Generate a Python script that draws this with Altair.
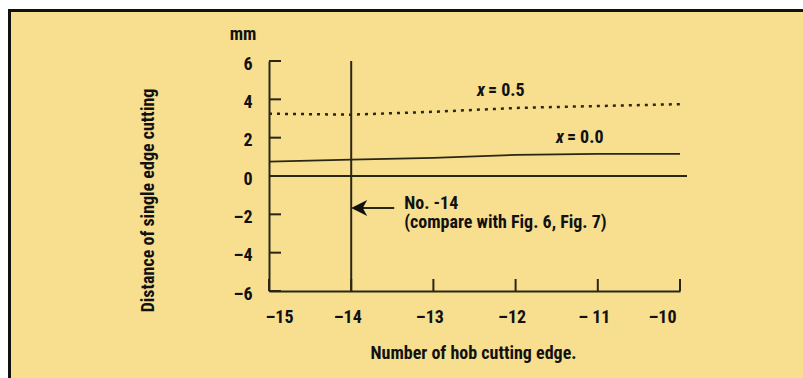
import altair as alt
import pandas as pd

# Hob cutting edge number (x) and single-edge cutting distance in mm (y)
edge_no = [-15, -14, -13, -12, -11, -10]
dist_x05 = [3.25, 3.2, 3.35, 3.55, 3.65, 3.75]   # profile shift x = 0.5
dist_x00 = [0.75, 0.85, 0.95, 1.1, 1.15, 1.15]   # profile shift x = 0.0

y_ticks = [-6, -4, -2, 0, 2, 4, 6]
x_ticks = [-15, -14, -13, -12, -11, -10]
x_tick_text = ["–15", "–14", "–13", "–12", "– 11", "–10"]

marked_edge = -14
arrow_y = -1.67
note_lines = ["No. -14", "(compare with Fig. 6, Fig. 7)"]

# plot area in pixels
W, H = 411, 230
PAD = {"left": 269, "top": 61, "right": 123, "bottom": 87}
X_DOM = [-15, -10]
Y_DOM = [-6, 6]
px_x = (X_DOM[1] - X_DOM[0]) / W
px_y = (Y_DOM[1] - Y_DOM[0]) / H

FONT = "Roboto Condensed, DejaVu Sans Condensed, Liberation Sans, sans-serif"
FS = 18
INK = "#2a2614"
BG = "#F7DF8F"

xs = alt.Scale(domain=X_DOM, nice=False, zero=False)
ys = alt.Scale(domain=Y_DOM, nice=False, zero=False)

lines = pd.DataFrame({
    "edge": edge_no * 2,
    "dist": dist_x05 + dist_x00,
    "series": ["x = 0.5"] * 6 + ["x = 0.0"] * 6,
})

label_expr = "datum.value < 0 ? '–' + abs(datum.value) : '' + datum.value"
x_label_expr = "{" + ",".join(f"'{v}':'{t}'" for v, t in zip(x_ticks, x_tick_text)) + "}[datum.value]"

AX_X = alt.Axis(
    values=x_ticks, ticks=False, tickSize=0, grid=False,
    domainColor=INK, domainWidth=2, labelOverlap=False,
    labelExpr=x_label_expr, labelFont=FONT, labelFontSize=FS,
    labelFontWeight="bold", labelColor="#111", labelPadding=26,
    labelBaseline="middle", labelOffset=-4,
    title="Number of hob cutting edge.", titleFont=FONT,
    titleFontSize=FS, titleFontWeight="bold", titleColor="#111",
    titleX=204, titleY=62, titleBaseline="middle", titleAlign="center",
)
AX_Y = alt.Axis(
    values=y_ticks, ticks=False, tickSize=0, grid=False,
    domainColor=INK, domainWidth=2, labelOverlap=False,
    labelExpr=label_expr, labelFont=FONT, labelFontSize=FS,
    labelFontWeight="bold", labelColor="#111", labelPadding=17,
    labelBaseline="middle", labelOffset=3,
    title="Distance of single edge cutting", titleFont=FONT,
    titleFontSize=FS, titleFontWeight="bold", titleColor="#111",
    titleX=-121, titleY=139, titleAngle=270,
    titleBaseline="middle", titleAlign="center",
)

X_ = lambda f: alt.X(f, scale=xs, axis=AX_X)
Y_ = lambda f: alt.Y(f, scale=ys, axis=AX_Y)

base = alt.Chart(lines).encode(x=X_("edge:Q"), y=Y_("dist:Q"))

dotted = base.transform_filter("datum.series == 'x = 0.5'").mark_line(
    color=INK, strokeWidth=2.5, strokeDash=[3, 5]
)
solid = base.transform_filter("datum.series == 'x = 0.0'").mark_line(
    color=INK, strokeWidth=1.8
)

# zero line and the vertical marker at edge -14
ref = pd.DataFrame({
    "x": [X_DOM[0], marked_edge],
    "x2": [X_DOM[1] + 7 * px_x, marked_edge],
    "y": [0, Y_DOM[0]],
    "y2": [0, Y_DOM[1]],
})
ref_rules = alt.Chart(ref).mark_rule(color=INK, strokeWidth=2).encode(
    x=X_("x:Q"), x2="x2:Q", y=Y_("y:Q"), y2="y2:Q",
)

# inward tick marks on both axes
tick_len = 12
yt = pd.DataFrame({"y": y_ticks, "x": X_DOM[0], "x2": X_DOM[0] + tick_len * px_x})
xt = pd.DataFrame({"x": x_ticks, "y": Y_DOM[0], "y2": Y_DOM[0] + tick_len * px_y})
y_tick_marks = alt.Chart(yt).mark_rule(color=INK, strokeWidth=2).encode(
    x=X_("x:Q"), x2="x2:Q", y=Y_("y:Q")
)
x_tick_marks = alt.Chart(xt).mark_rule(color=INK, strokeWidth=2).encode(
    x=X_("x:Q"), y=Y_("y:Q"), y2="y2:Q"
)

# arrow pointing at edge -14
shaft = pd.DataFrame({"x": [marked_edge + 8 * px_x], "x2": [marked_edge + 43 * px_x], "y": [arrow_y]})
arrow_shaft = alt.Chart(shaft).mark_rule(color=INK, strokeWidth=2).encode(
    x=X_("x:Q"), x2="x2:Q", y=Y_("y:Q")
)
head = pd.DataFrame({"x": [marked_edge + 8 * px_x], "y": [arrow_y]})
arrow_head = alt.Chart(head).mark_point(
    shape="M-1,0 L1,-1 L0.45,0 L1,1 Z", size=256, filled=True, opacity=1, color="#111"
).encode(x=X_("x:Q"), y=Y_("y:Q"))

note = pd.DataFrame({
    "x": [marked_edge + 53 * px_x] * 2,
    "y": [arrow_y + 4 * px_y, arrow_y - 15 * px_y],
    "t": note_lines,
})
note_text = alt.Chart(note).mark_text(
    align="left", baseline="middle", font=FONT, fontSize=FS, fontWeight="bold", color="#111"
).encode(x=X_("x:Q"), y=Y_("y:Q"), text="t:N")

# series labels: italic variable name, then the value
lab = pd.DataFrame({
    "x": [-12.36, -11.40],
    "y": [4.43, 1.98],
    "v": ["x", "x"],
    "t": ["= 0.5", "= 0.0"],
})
lab_var = alt.Chart(lab).mark_text(
    align="right", baseline="middle", font=FONT, fontSize=FS, fontWeight="bold",
    fontStyle="italic", color="#111", dx=-1
).encode(x=X_("x:Q"), y=Y_("y:Q"), text="v:N")
lab_val = alt.Chart(lab).mark_text(
    align="left", baseline="middle", font=FONT, fontSize=FS, fontWeight="bold",
    color="#111", dx=2
).encode(x=X_("x:Q"), y=Y_("y:Q"), text="t:N")

one = alt.Data(values=[{}])
unit = alt.Chart(one).mark_text(
    align="center", baseline="middle", font=FONT, fontSize=FS, fontWeight="bold", color="#111"
).encode(x=alt.value(-26), y=alt.value(-26), text=alt.value("mm"))

# page frame: white margin with a black border on the left and top
white_left = alt.Chart(one).mark_rect(color="white").encode(
    x=alt.value(-PAD["left"]), x2=alt.value(-PAD["left"] + 8),
    y=alt.value(-PAD["top"]), y2=alt.value(H + PAD["bottom"]))
white_top = alt.Chart(one).mark_rect(color="white").encode(
    x=alt.value(-PAD["left"]), x2=alt.value(W + PAD["right"]),
    y=alt.value(-PAD["top"]), y2=alt.value(-PAD["top"] + 9))
border_left = alt.Chart(one).mark_rule(color="#111", strokeWidth=3).encode(
    x=alt.value(-PAD["left"] + 9.5),
    y=alt.value(-PAD["top"] + 9), y2=alt.value(H + PAD["bottom"]))
border_top = alt.Chart(one).mark_rule(color="#111", strokeWidth=3).encode(
    x=alt.value(-PAD["left"] + 8), x2=alt.value(W + PAD["right"]),
    y=alt.value(-PAD["top"] + 10.5))

chart = alt.layer(
    white_left, white_top, border_left, border_top,
    dotted, solid, ref_rules, y_tick_marks, x_tick_marks,
    arrow_shaft, arrow_head, note_text, lab_var, lab_val, unit,
).properties(
    width=W, height=H, padding=PAD, autosize="none", background=BG,
).configure_view(stroke=None).configure_axis(labelOverlap=False)

chart.save("out.html", embed_options={"renderer": "svg", "actions": False})
